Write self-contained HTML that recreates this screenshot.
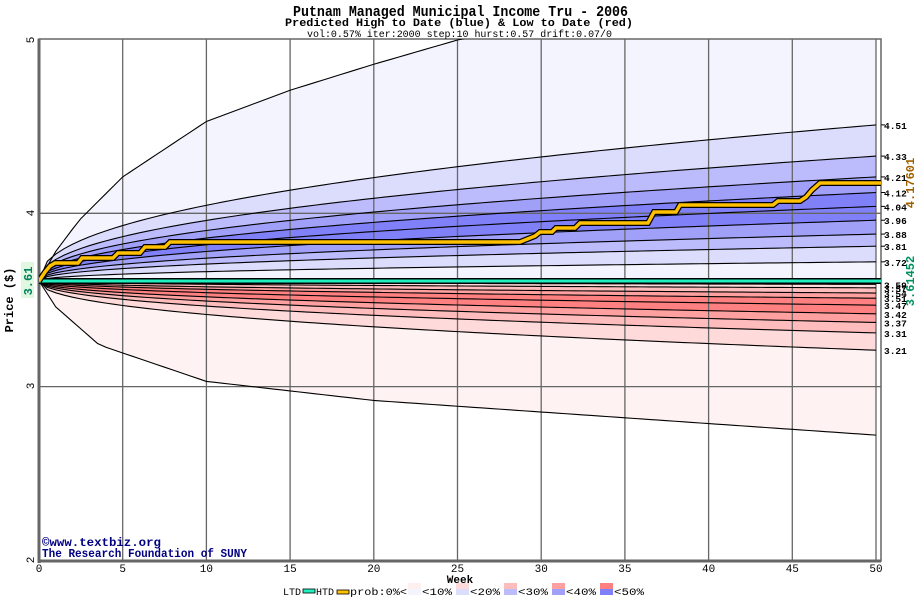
<!DOCTYPE html>
<html><head><meta charset="utf-8">
<style>
body{margin:0;background:#fff;width:920px;height:600px;overflow:hidden;font-family:"Liberation Mono",monospace;}
svg text{font-family:"Liberation Mono",monospace;}
</style></head>
<body>
<svg id="s" width="920" height="600" xmlns="http://www.w3.org/2000/svg">
<defs><clipPath id="c"><rect x="39" y="39" width="842" height="522"/></clipPath></defs>
<rect x="39" y="39" width="842" height="522" fill="#fff"/>
<g id="bands" clip-path="url(#c)"></g>
<g id="grid"></g>
<g id="lines" clip-path="url(#c)"></g>
<text x="293" y="16" font-family="Liberation Sans Narrow, Liberation Sans" font-size="15" font-weight="bold" textLength="335" lengthAdjust="spacingAndGlyphs">Putnam Managed Municipal Income Tru - 2006</text>
<text x="285" y="26" font-size="11" font-weight="bold" textLength="348" lengthAdjust="spacingAndGlyphs">Predicted High to Date (blue) &amp;  Low to Date (red)</text>
<text x="307" y="37" font-size="10" textLength="305" lengthAdjust="spacingAndGlyphs">vol:0.57% iter:2000 step:10 hurst:0.57 drift:0.07/0</text>
<text x="42" y="546" font-size="12" font-weight="bold" fill="#000080" textLength="119" lengthAdjust="spacingAndGlyphs">©www.textbiz.org</text>
<text x="42" y="557" font-size="12" font-weight="bold" fill="#000080" textLength="205" lengthAdjust="spacingAndGlyphs">The Research Foundation of SUNY</text>
<text x="460" y="583" text-anchor="middle" font-size="11" font-weight="bold">Week</text>
<text transform="translate(13,300) rotate(-90)" text-anchor="middle" font-size="12" font-weight="bold">Price ($)</text>
<rect x="21" y="262" width="13" height="36" fill="#e0f8e0"/>
<text transform="translate(32,281) rotate(-90)" text-anchor="middle" font-size="12" font-weight="bold" fill="#008060">3.61</text>
<text transform="translate(914,183) rotate(-90)" text-anchor="middle" font-size="12" font-weight="bold" fill="#a06000">4.17601</text>
<text transform="translate(914,281) rotate(-90)" text-anchor="middle" font-size="12" font-weight="bold" fill="#009060">3.61452</text>
<g id="rl" font-size="9.5" font-weight="bold"></g>
<g id="leg" font-size="10"></g>
</svg>
<script>
var NS="http://www.w3.org/2000/svg";
function el(p,t,a,txt){var e=document.createElementNS(NS,t);for(var k in a)e.setAttribute(k,a[k]);if(txt!=null)e.textContent=txt;document.getElementById(p).appendChild(e);return e;}
function X(t){return 39+t*16.74;}
function Y(p){return 40+(5-p)*173.3;}
var B=3.61;
function interp(pts,t){for(var i=1;i<pts.length;i++){if(t<=pts[i][0]){var a=pts[i-1],b=pts[i];return a[1]+(b[1]-a[1])*(t-a[0])/(b[0]-a[0]);}}return pts[pts.length-1][1];}
var upO=[[0,0],[1,0.17],[2.4,0.35],[5,0.6],[10,0.92],[15,1.1],[20,1.25],[25,1.39],[50,1.9]];
var loO=[[0,0],[1,-0.15],[3.6,-0.37],[10,-0.58],[20,-0.69],[50,-0.89]];
var upE=[0.90,0.72,0.60,0.51,0.43,0.35,0.27,0.20,0.11];
var loE=[-0.02,-0.04,-0.07,-0.10,-0.14,-0.19,-0.24,-0.30,-0.40];
var T=[];for(var t=0;t<=50;t+=0.5)T.push(t);
function curve(f){return T.map(function(t){return [X(t),Y(B+f(t))];});}
function sh(t){return Math.pow(t/50,0.45);}
var up=[curve(function(t){return interp(upO,t);})];
upE.forEach(function(d){up.push(curve(function(t){return d*sh(t);}));});
up.push(curve(function(){return 0;}));
var lo=[curve(function(){return 0;})];
loE.forEach(function(d){lo.push(curve(function(t){return d*sh(t);}));});
lo.push(curve(function(t){return interp(loO,t);}));
var uc=["#f4f4ff","#dcdcfc","#bcbcfc","#a0a0f8","#8080f8","#8080f8","#a0a0f8","#bcbcfc","#dcdcfc","#f4f4ff"];
var lc=["#fff0f0","#ffdada","#ffbcbc","#ffa0a0","#ff8080","#ff8080","#ffa0a0","#ffbcbc","#ffdada","#fff2f2"];
function band(a,b,c){var d="M"+a.map(function(p){return p[0]+","+p[1];}).join("L")+"L"+b.slice().reverse().map(function(p){return p[0]+","+p[1];}).join("L")+"Z";el("bands","path",{d:d,fill:c});}
for(var i=0;i<10;i++){band(up[i],up[i+1],uc[i]);band(lo[i],lo[i+1],lc[i]);}
function line(c,col,w){el("lines","path",{d:"M"+c.map(function(p){return p[0]+","+p[1];}).join("L"),fill:"none",stroke:col,"stroke-width":w});}
for(var i=0;i<10;i++){line(up[i],"#000",1.1);}
for(var i=1;i<11;i++){line(lo[i],"#000",1.1);}
for(var w=0;w<=50;w+=5){el("grid","line",{x1:X(w),x2:X(w),y1:39,y2:561,stroke:"#666","stroke-width":1.3});el("grid","text",{x:X(w),y:572,"text-anchor":"middle","font-size":"11"},String(w));}
[3,4].forEach(function(p){el("grid","line",{x1:39,x2:881,y1:Y(p),y2:Y(p),stroke:"#666","stroke-width":1.3});});
el("grid","rect",{x:39,y:39,width:842,height:522,fill:"none",stroke:"#666","stroke-width":1.5});
el("grid","line",{x1:39,x2:39,y1:39,y2:563,stroke:"#666","stroke-width":3});
el("grid","line",{x1:39,x2:881,y1:561,y2:561,stroke:"#666","stroke-width":3});
[[5,40],[4,213],[3,386],[2,560]].forEach(function(a){el("grid","text",{transform:"translate(34,"+a[1]+") rotate(-90)","text-anchor":"middle","font-size":"11"},String(a[0]));});
el("lines","line",{x1:39,x2:881,y1:281,y2:281,stroke:"#000","stroke-width":6});
el("lines","line",{x1:39,x2:881,y1:281,y2:281,stroke:"#20f0c0","stroke-width":3});
var h=[[39,281],[45,272],[50,266],[55,263],[78,263],[82,258],[113,258],[118,253],[140,253],[145,247],[165,247],[170,242],[520,242],[535,236],[540,232],[552,232],[556,228],[575,228],[580,223],[648,223],[654,212],[676,212],[680,205],[773,205],[778,201],[800,201],[806,197],[812,190],[820,183],[881,183]];
var hd="M"+h.map(function(p){return p[0]+","+p[1];}).join("L");
el("lines","path",{d:hd,fill:"none",stroke:"#000","stroke-width":6});
el("lines","path",{d:hd,fill:"none",stroke:"#ffc000","stroke-width":3.5});
["4.51","4.33","4.21","4.12","4.04","3.96","3.88","3.81","3.72"].forEach(function(s,i){var y=Y(B+upE[i]);el("rl","line",{x1:881,x2:885,y1:y,y2:y,stroke:"#000"});el("rl","text",{x:884,y:y+4},s);});
["3.59","3.57","3.54","3.51","3.47","3.42","3.37","3.31","3.21"].forEach(function(s,i){var y=Y(B+loE[i]);el("rl","text",{x:884,y:y+4},s);});
var lx=283,ly=595;
el("leg","text",{x:lx,y:ly},"LTD");
el("leg","rect",{x:lx+20,y:ly-6,width:12,height:4,fill:"#20f0c0",stroke:"#000","stroke-width":0.8});
el("leg","text",{x:lx+33,y:ly},"HTD");
el("leg","rect",{x:lx+54,y:ly-5,width:12,height:4,fill:"#ffc000",stroke:"#000","stroke-width":0.8});
el("leg","text",{x:lx+67,y:ly,textLength:"57",lengthAdjust:"spacingAndGlyphs"},"prob:0%<");
var lr=["#fff0f0","#ffdada","#ffbcbc","#ffa0a0","#ff8080"],lb=["#f4f4ff","#dcdcfc","#bcbcfc","#a0a0f8","#8080f8"],lt=["<10%","<20%","<30%","<40%","<50%"];
for(var i=0;i<5;i++){var x=lx+125+i*48;el("leg","rect",{x:x,y:ly-12,width:13,height:6,fill:lr[i]});el("leg","rect",{x:x,y:ly-6,width:13,height:6,fill:lb[i]});el("leg","text",{x:x+14,y:ly,textLength:"30",lengthAdjust:"spacingAndGlyphs"},lt[i]);}
</script>
</body></html>
